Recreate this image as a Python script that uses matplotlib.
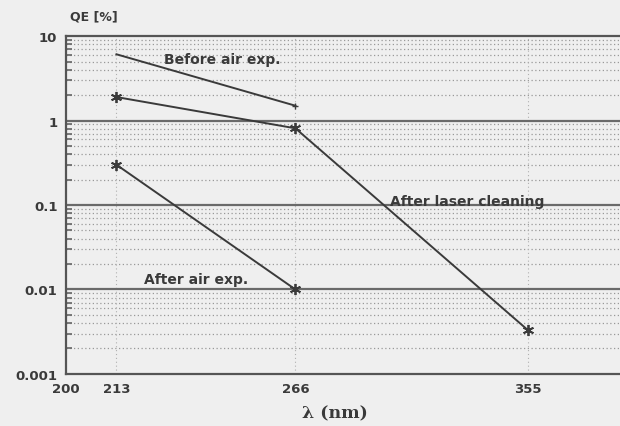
import matplotlib
matplotlib.use("Agg")
import matplotlib.pyplot as plt
from matplotlib.ticker import FixedLocator, FixedFormatter, NullFormatter, NullLocator

# wavelength (nm) and quantum efficiency (%) for each surface state
wl_before = [213, 266]
qe_before = [6.1, 1.5]

wl_laser = [213, 266, 355]
qe_laser = [1.9, 0.81, 0.0033]

wl_air = [213, 266]
qe_air = [0.30, 0.010]

x_ticks = [200, 213, 266, 355]
y_ticks = [0.001, 0.01, 0.1, 1, 10]
y_ticklabels = ["0.001", "0.01", "0.1", "1", "10"]

BG = "#efefef"
INK = "#3a3a3a"
GRID = "#999999"

fig = plt.figure(figsize=(6.2, 4.27), dpi=100, facecolor=BG)
ax = fig.add_axes([0.106, 0.122, 0.894, 0.791])
ax.set_facecolor(BG)
ax.set_xscale("log")
ax.set_yscale("log")
ax.set_xlim(200, 398)
ax.set_ylim(0.001, 10)

# dotted minor grid and solid decade lines
for dec in [0.001, 0.01, 0.1, 1]:
    for m in range(2, 10):
        ax.axhline(dec * m, color=GRID, lw=0.9, ls=(0, (1, 2.0)), zorder=1)
for dec in y_ticks[1:-1]:
    ax.axhline(dec, color="#6a6a6a", lw=1.6, zorder=2)
for xv in x_ticks[1:]:
    ax.axvline(xv, color="#b0b0b0", lw=0.8, ls=(0, (1, 2.5)), zorder=1)

for sp in ["left", "bottom", "top"]:
    ax.spines[sp].set_color("#555555")
    ax.spines[sp].set_linewidth(1.6)
ax.spines["right"].set_visible(False)

ax.xaxis.set_major_locator(FixedLocator(x_ticks))
ax.xaxis.set_major_formatter(FixedFormatter([str(v) for v in x_ticks]))
ax.xaxis.set_minor_locator(NullLocator())
ax.yaxis.set_major_locator(FixedLocator(y_ticks))
ax.yaxis.set_major_formatter(FixedFormatter(y_ticklabels))
ax.yaxis.set_minor_formatter(NullFormatter())
ax.tick_params(axis="both", which="major", length=0, labelsize=9.5,
               labelcolor=INK, pad=6)
ax.tick_params(axis="y", which="minor", direction="in", length=4,
               width=1.2, color="#666666")
for lab in ax.get_xticklabels() + ax.get_yticklabels():
    lab.set_fontweight("bold")

star = (6, 2, 0)
ax.plot(wl_before, qe_before, color=INK, lw=1.4, zorder=4)
ax.plot(wl_before[-1:], qe_before[-1:], color=INK, marker="+", ms=4, zorder=4)
ax.plot(wl_laser, qe_laser, color=INK, lw=1.4, marker=star, ms=8,
        mew=1.3, zorder=4)
ax.plot(wl_air, qe_air, color=INK, lw=1.4, marker=star, ms=8,
        mew=1.3, zorder=4)

ax.text(226, 5.3, "Before air exp.", color=INK, fontsize=10,
        fontweight="bold", ha="left", va="center", zorder=5)
ax.text(299, 0.111, "After laser cleaning", color=INK, fontsize=10,
        fontweight="bold", ha="left", va="center", zorder=5)
ax.text(220.5, 0.0133, "After air exp.", color=INK, fontsize=10,
        fontweight="bold", ha="left", va="center", zorder=5)

fig.text(0.113, 0.96, "QE [%]", color=INK, fontsize=9, fontweight="bold",
         ha="left", va="center")
fig.text(0.54, 0.03, "λ (nm)", color=INK, fontsize=12.5, family="DejaVu Serif",
         fontweight="bold", ha="center", va="center")

fig.savefig("out.png", dpi=100, facecolor=BG)
